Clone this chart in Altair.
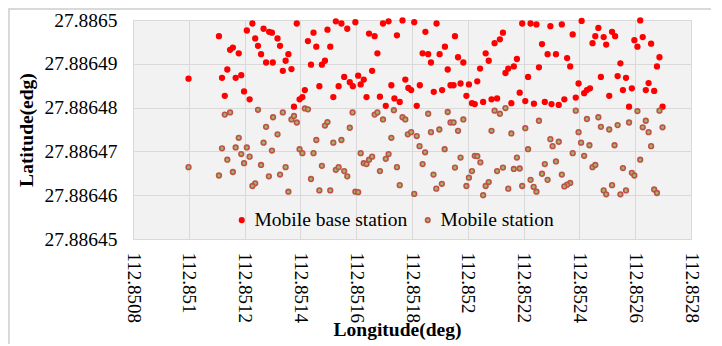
import altair as alt
import pandas as pd

# Mobile base station (red)
base_lon = [
    112.851228, 112.851268, 112.851288, 112.851298, 112.851208, 112.851108, 112.851238, 112.851248,
    112.851158, 112.851148, 112.851179, 112.851259, 112.851277, 112.851301, 112.851138, 112.850999,
    112.851119, 112.851168, 112.851188, 112.851198, 112.851129, 112.851218,
    112.851318, 112.851327, 112.851357, 112.851347, 112.851337, 112.851368, 112.851387, 112.851447,
    112.851427, 112.851457, 112.851497, 112.851507, 112.851527, 112.851547, 112.851568, 112.851597,
    112.851488, 112.851477, 112.851438, 112.851557, 112.851468, 112.851537, 112.851577, 112.851588,
    112.851607, 112.851627, 112.851616, 112.851657, 112.851676, 112.851646, 112.851666, 112.851696,
    112.851716, 112.851746, 112.851766, 112.851416, 112.851407, 112.851397, 112.851377, 112.851518,
    112.851637, 112.851685, 112.851706, 112.851737, 112.851756, 112.851726, 112.851776, 112.851787,
    112.851797,
    112.851808, 112.851888, 112.851848, 112.851954, 112.851918, 112.851838, 112.851858, 112.851899,
    112.851868, 112.851965, 112.851984, 112.851928, 112.851828, 112.851878, 112.851908, 112.851938,
    112.851949, 112.851974, 112.852004, 112.852034, 112.851995, 112.851817, 112.852015, 112.852025,
    112.852055, 112.852085, 112.852105, 112.852156, 112.852186, 112.852206, 112.852237, 112.852276,
    112.852300, 112.852044, 112.852075, 112.852064, 112.852096, 112.852115, 112.852126, 112.852135,
    112.852145, 112.852165, 112.852176, 112.852216, 112.852255, 112.852195, 112.852225, 112.852246,
    112.852296, 112.852266, 112.852286,
    112.852337, 112.852408, 112.852376, 112.852316, 112.852356, 112.852367, 112.852468, 112.852457,
    112.852487, 112.852517, 112.852528, 112.852447, 112.852496, 112.852618, 112.852597, 112.852608,
    112.852627, 112.852657, 112.852687, 112.852678, 112.852547, 112.852477, 112.852537, 112.852567,
    112.852397, 112.852427, 112.852438, 112.852417, 112.852556, 112.852588, 112.852507, 112.852648,
    112.852638, 112.852668, 112.852387, 112.852346, 112.852326, 112.852578, 112.852698,
]
base_lat = [
    27.8864992, 27.8864980, 27.8864973, 27.8864971, 27.8864976, 27.8864963, 27.8864958, 27.8864941,
    27.8864937, 27.8864932, 27.8864924, 27.8864922, 27.8864903, 27.8864903, 27.8864887, 27.8864866,
    27.8864868, 27.8864868, 27.8864874, 27.8864837, 27.8864827, 27.8864819,
    27.8864958, 27.8864941, 27.8864922, 27.8864907, 27.8864884, 27.8864888, 27.8864992, 27.8864971,
    27.8864952, 27.8864939, 27.8864978, 27.8864939, 27.8864997, 27.8864992, 27.8864980, 27.8864995,
    27.8864907, 27.8864898, 27.8864898, 27.8864870, 27.8864849, 27.8864849, 27.8864858, 27.8864849,
    27.8864873, 27.8864864, 27.8864853, 27.8864884, 27.8864924, 27.8864969, 27.8864963, 27.8864992,
    27.8864997, 27.8864965, 27.8864999, 27.8864840, 27.8864824, 27.8864819, 27.8864802, 27.8864824,
    27.8864824, 27.8864825, 27.8864804, 27.8864821, 27.8864813, 27.8864851, 27.8864864, 27.8864845,
    27.8864840,
    27.8864995, 27.8864992, 27.8864973, 27.8864963, 27.8864939, 27.8864924, 27.8864922, 27.8864922,
    27.8864903, 27.8864915, 27.8864903, 27.8864887, 27.8864851, 27.8864836, 27.8864840, 27.8864851,
    27.8864851, 27.8864855, 27.8864853, 27.8864860, 27.8864827, 27.8864804, 27.8864810, 27.8864808,
    27.8864813, 27.8864819, 27.8864821, 27.8864810, 27.8864834, 27.8864815, 27.8864809, 27.8864813,
    27.8864808, 27.8864889, 27.8864907, 27.8864924, 27.8864947, 27.8864956, 27.8864971, 27.8864879,
    27.8864889, 27.8864894, 27.8864911, 27.8864870, 27.8864892, 27.8864992, 27.8864992, 27.8864990,
    27.8864986, 27.8864945, 27.8864922,
    27.8864990, 27.8864998, 27.8864967, 27.8864922, 27.8864913, 27.8864894, 27.8864982, 27.8864963,
    27.8864961, 27.8864973, 27.8864963, 27.8864947, 27.8864944, 27.8864999, 27.8864954, 27.8864939,
    27.8864961, 27.8864946, 27.8864915, 27.8864894, 27.8864901, 27.8864870, 27.8864872, 27.8864868,
    27.8864855, 27.8864840, 27.8864844, 27.8864833, 27.8864840, 27.8864844, 27.8864827, 27.8864856,
    27.8864840, 27.8864838, 27.8864823, 27.8864819, 27.8864806, 27.8864802, 27.8864802,
]

# Mobile station (brown)
mobile_lon = [
    112.851129, 112.851148, 112.851248, 112.851302, 112.851277, 112.851179, 112.851119, 112.851168,
    112.851208, 112.851268, 112.851298, 112.851188, 112.851218, 112.851138, 112.851198, 112.850999,
    112.851259, 112.851108, 112.851158, 112.851287, 112.851238, 112.851228,
    112.851337, 112.851368, 112.851377, 112.851387, 112.851318, 112.851416, 112.851427, 112.851488,
    112.851497, 112.851587, 112.851577, 112.851457, 112.851518, 112.851547, 112.851397, 112.851407,
    112.851447, 112.851347, 112.851327, 112.851477, 112.851527, 112.851537, 112.851557, 112.851568,
    112.851438, 112.851357, 112.851468, 112.851507, 112.851597, 112.851607, 112.851616, 112.851627,
    112.851637, 112.851646, 112.851657, 112.851706, 112.851716, 112.851685, 112.851746, 112.851756,
    112.851666, 112.851676, 112.851696, 112.851735, 112.851766, 112.851776, 112.851726, 112.851785,
    112.851797, 112.851808,
    112.851858, 112.851928, 112.851938, 112.851949, 112.851984, 112.851868, 112.851898, 112.851965,
    112.851817, 112.851827, 112.851847, 112.851917, 112.851838, 112.851877, 112.851887, 112.851907,
    112.851954, 112.851974, 112.852025, 112.852034, 112.852045, 112.852015, 112.852004, 112.851995,
    112.852055, 112.852064, 112.852075, 112.852085, 112.852096, 112.852115, 112.852135, 112.852156,
    112.852105, 112.852126, 112.852145, 112.852165, 112.852176, 112.852186, 112.852195, 112.852206,
    112.852216, 112.852255, 112.852225, 112.852236, 112.852246, 112.852266, 112.852276, 112.852286,
    112.852296, 112.852304,
    112.852387, 112.852427, 112.852468, 112.852477, 112.852507, 112.852537, 112.852578, 112.852608,
    112.852638, 112.852627, 112.852648, 112.852687, 112.852698, 112.852397, 112.852326, 112.852406,
    112.852436, 112.852526, 112.852657, 112.852376, 112.852417, 112.852316, 112.852447, 112.852457,
    112.852556, 112.852618, 112.852588, 112.852597, 112.852337, 112.852367, 112.852356, 112.852346,
    112.852517, 112.852487, 112.852496, 112.852547, 112.852567, 112.852668, 112.852678,
]
mobile_lat = [
    27.8864784, 27.8864789, 27.8864795, 27.8864778, 27.8864756, 27.8864731, 27.8864707, 27.8864709,
    27.8864709, 27.8864720, 27.8864702, 27.8864694, 27.8864688, 27.8864681, 27.8864673, 27.8864664,
    27.8864669, 27.8864645, 27.8864653, 27.8864643, 27.8864627, 27.8864621,
    27.8864789, 27.8864773, 27.8864781, 27.8864766, 27.8864739, 27.8864798, 27.8864796, 27.8864759,
    27.8864767, 27.8864789, 27.8864754, 27.8864726, 27.8864720, 27.8864726, 27.8864705, 27.8864696,
    27.8864696, 27.8864664, 27.8864647, 27.8864667, 27.8864658, 27.8864664, 27.8864655, 27.8864643,
    27.8864637, 27.8864608, 27.8864611, 27.8864611, 27.8864608, 27.8864607, 27.8864696, 27.8864673,
    27.8864671, 27.8864681, 27.8864688, 27.8864683, 27.8864694, 27.8864655, 27.8864664, 27.8864623,
    27.8864784, 27.8864789, 27.8864773, 27.8864794, 27.8864778, 27.8864773, 27.8864731, 27.8864739,
    27.8864744, 27.8864603,
    27.8864786, 27.8864790, 27.8864766, 27.8864766, 27.8864773, 27.8864744, 27.8864750, 27.8864747,
    27.8864735, 27.8864712, 27.8864698, 27.8864705, 27.8864671, 27.8864647, 27.8864615, 27.8864626,
    27.8864663, 27.8864686, 27.8864690, 27.8864689, 27.8864675, 27.8864655, 27.8864640, 27.8864621,
    27.8864600, 27.8864621, 27.8864630, 27.8864747, 27.8864793, 27.8864786, 27.8864799, 27.8864741,
    27.8864655, 27.8864663, 27.8864615, 27.8864660, 27.8864686, 27.8864661, 27.8864621, 27.8864753,
    27.8864705, 27.8864770, 27.8864635, 27.8864619, 27.8864608, 27.8864649, 27.8864671, 27.8864635,
    27.8864728, 27.8864712,
    27.8864793, 27.8864774, 27.8864778, 27.8864756, 27.8864750, 27.8864760, 27.8864766, 27.8864792,
    27.8864770, 27.8864755, 27.8864744, 27.8864793, 27.8864755, 27.8864744, 27.8864722, 27.8864720,
    27.8864714, 27.8864714, 27.8864712, 27.8864696, 27.8864690, 27.8864677, 27.8864664, 27.8864669,
    27.8864662, 27.8864681, 27.8864651, 27.8864645, 27.8864647, 27.8864628, 27.8864624, 27.8864620,
    27.8864623, 27.8864611, 27.8864602, 27.8864602, 27.8864611, 27.8864613, 27.8864605,
]

series_names = ["Mobile base station", "Mobile station"]
x_ticks = [112.8508, 112.851, 112.8512, 112.8514, 112.8516, 112.8518,
           112.852, 112.8522, 112.8524, 112.8526, 112.8528]
y_ticks = [27.88645, 27.88646, 27.88647, 27.88648, 27.88649, 27.8865]

df = pd.concat([
    pd.DataFrame({"lon": base_lon, "lat": base_lat, "series": series_names[0]}),
    pd.DataFrame({"lon": mobile_lon, "lat": mobile_lat, "series": series_names[1]}),
], ignore_index=True)

FONT = "Liberation Serif"
W, H = 558, 219

points = alt.Chart(df).mark_point(
    filled=True, shape="circle", opacity=1, size=22, strokeWidth=1.6
).encode(
    x=alt.X("lon:Q",
            scale=alt.Scale(domain=[x_ticks[0], x_ticks[-1]], nice=False, zero=False),
            axis=alt.Axis(values=x_ticks, format=".7~g", labelAngle=90,
                          labelFont=FONT, labelFontSize=19, labelColor="#000000",
                          labelPadding=13, title="Longitude(deg)",
                          titleFont=FONT, titleFontSize=19.5, titleFontWeight="bold",
                          titleX=264, titleY=96, titleAlign="center",
                          titleBaseline="alphabetic", titleAnchor="start")),
    y=alt.Y("lat:Q",
            scale=alt.Scale(domain=[y_ticks[0], y_ticks[-1]], nice=False, zero=False),
            axis=alt.Axis(values=y_ticks, format=".7~g",
                          labelFont=FONT, labelFontSize=19.5, labelColor="#000000",
                          labelPadding=16, title="Latitude(edg)",
                          titleFont=FONT, titleFontSize=19.5, titleFontWeight="bold",
                          titleX=-101, titleY=H / 2, titleAlign="center",
                          titleBaseline="alphabetic", titleAngle=270)),
    fill=alt.Fill("series:N", scale=alt.Scale(domain=series_names, range=["#ff0000", "#9bbb59"]),
                  legend=alt.Legend(title=None)),
    stroke=alt.Stroke("series:N", scale=alt.Scale(domain=series_names, range=["#ff0000", "#c0504d"]),
                      legend=alt.Legend(title=None)),
)

frame = alt.Chart(pd.DataFrame({"k": [0]})).mark_rect(
    fill=None, stroke="#d9d9d9", strokeWidth=2
).encode(
    x=alt.value(-124), x2=alt.value(W + 200), y=alt.value(-11), y2=alt.value(H + 200)
)

chart = alt.layer(frame, points).properties(
    width=W, height=H,
    autosize=alt.AutoSizeParams(type="none"),
    padding={"left": 125, "top": 12, "right": 20, "bottom": 105},
    background="white",
).configure_view(
    fill="#f2f2f2", stroke="#d9d9d9", strokeWidth=1
).configure_axis(
    labelFont=FONT, labelColor="#000000", titleFont=FONT, titleFontSize=19.5,
    titleFontWeight="bold", titleColor="#000000",
    ticks=False, tickSize=0, domain=False, grid=True, gridColor="#d9d9d9", gridWidth=1,
).configure_legend(
    orient="none", legendX=99, legendY=190, direction="horizontal",
    labelFont=FONT, labelFontSize=19.5, labelColor="#000000", labelOffset=3,
    symbolSize=20, symbolStrokeWidth=1.6, columnPadding=10, padding=0,
)

chart.save("out.html", embed_options={"renderer": "svg", "actions": False})
